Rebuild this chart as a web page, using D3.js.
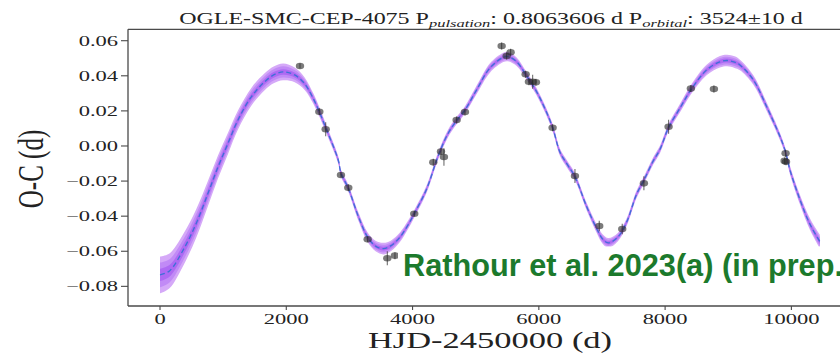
<!DOCTYPE html>
<html>
<head>
<meta charset="utf-8">
<script src="https://cdn.jsdelivr.net/npm/d3@7"></script>
<style>
  html, body { margin: 0; padding: 0; background: #fff; }
  svg { display: block; }
</style>
</head>
<body>
<svg id="chart" width="840" height="353"></svg>
<script>
// Orbital light-travel-time fit of O-C residuals (days) vs HJD-2450000
const modelX = [0, 150, 364, 575, 760, 918, 1077, 1235, 1446, 1657, 1800, 1950, 2133, 2291, 2428, 2523, 2624,
  2823, 2866, 2982, 3140, 3289, 3420, 3540, 3660, 3800, 3920, 4027, 4223, 4407, 4560, 4698, 4830, 5015, 5226,
  5437, 5510, 5648, 5806, 5964, 6100, 6218, 6334, 6450, 6572, 6757, 6915, 7010, 7100, 7250, 7390, 7548, 7664,
  7812, 7918, 8055, 8234, 8408, 8657, 8868, 8984, 9100, 9185, 9395, 9607, 9818, 9908, 9976, 10135, 10293, 10451];
const modelY = [-0.0735, -0.0712, -0.0595, -0.0440, -0.0270, -0.0120, 0.0015, 0.0148, 0.0280, 0.0366, 0.0405,
  0.0422, 0.0405, 0.0355, 0.0270, 0.0195, 0.0105, -0.0080, -0.0155, -0.0240, -0.0400, -0.0520, -0.0572, -0.0585,
  -0.0568, -0.0520, -0.0455, -0.0386, -0.0245, -0.0055, 0.0070, 0.0145, 0.0205, 0.0320, 0.0445, 0.0505, 0.0510,
  0.0480, 0.0400, 0.0310, 0.0210, 0.0105, -0.0035, -0.0105, -0.0175, -0.0345, -0.0470, -0.0530, -0.0552, -0.0520,
  -0.0435, -0.0275, -0.0195, -0.0085, -0.0020, 0.0105, 0.0215, 0.0320, 0.0433, 0.0480, 0.0487, 0.0478, 0.0462,
  0.0378, 0.0225, 0.0055, -0.0035, -0.0135, -0.0305, -0.0445, -0.0545];
// 1-sigma width of the posterior model envelope
const modelSigma = [0.0035, 0.0033, 0.0030, 0.0027, 0.0024, 0.0022, 0.0020, 0.0018, 0.0017, 0.0016, 0.0016,
  0.0016, 0.0014, 0.0012, 0.0010, 0.0009, 0.0008, 0.0007, 0.0007, 0.0007, 0.0008, 0.0009, 0.0010, 0.0011,
  0.0010, 0.0009, 0.0008, 0.0007, 0.0007, 0.0007, 0.0007, 0.0007, 0.0007, 0.0008, 0.0009, 0.0009, 0.0009,
  0.0008, 0.0007, 0.0007, 0.0007, 0.0007, 0.0007, 0.0007, 0.0007, 0.0007, 0.0008, 0.0009, 0.0009, 0.0008,
  0.0007, 0.0007, 0.0007, 0.0007, 0.0007, 0.0007, 0.0008, 0.0009, 0.0010, 0.0011, 0.0011, 0.0011, 0.0010,
  0.0009, 0.0008, 0.0007, 0.0007, 0.0008, 0.0009, 0.0011, 0.0013];

// Observed O-C values
const obsX = [2217, 2523, 2624, 2866, 2982, 3289, 3600, 3721, 4027, 4328, 4450, 4497, 4698, 4830, 5411, 5490,
  5553, 5791, 5843, 5902, 5954, 6218, 6572, 6957, 7321, 7664, 8055, 8408, 8773, 9908, 9893, 9915];
const obsY = [0.0456, 0.0195, 0.0095, -0.0165, -0.0238, -0.0532, -0.0640, -0.0625, -0.0386, -0.0093, -0.0032,
  -0.0063, 0.0148, 0.0194, 0.0570, 0.0513, 0.0534, 0.0409, 0.0366, 0.0366, 0.0363, 0.0104, -0.0171, -0.0456,
  -0.0473, -0.0213, 0.0110, 0.0327, 0.0325, -0.0042, -0.0085, -0.0090];
const obsErr = [0.0015, 0.0020, 0.0040, 0.0015, 0.0020, 0.0015, 0.0040, 0.0020, 0.0015, 0.0020, 0.0020, 0.0050,
  0.0020, 0.0020, 0.0020, 0.0020, 0.0020, 0.0020, 0.0020, 0.0040, 0.0020, 0.0020, 0.0040, 0.0030, 0.0030,
  0.0040, 0.0040, 0.0020, 0.0020, 0.0020, 0.0020, 0.0020];

const xTicks = [0, 2000, 4000, 6000, 8000, 10000];
const yTicks = [-0.08, -0.06, -0.04, -0.02, 0.00, 0.02, 0.04, 0.06];
const sigmaLevels = [3, 2, 1];
const bandColors = ["#d5a9f8", "#c18af6", "#ae6af3"];

const svg = d3.select("#chart");
const plot = { left: 128, right: 852, top: 29.3, bottom: 306 };

const x = d3.scaleLinear().domain([-507, 10960]).range([plot.left, plot.right]);
const y = d3.scaleLinear().domain([-0.0912, 0.0665]).range([plot.bottom, plot.top]);

const serif = "'Liberation Serif', 'Times New Roman', serif";

svg.append("defs").append("clipPath").attr("id", "plotClip")
  .append("rect").attr("x", plot.left).attr("y", plot.top)
  .attr("width", plot.right - plot.left).attr("height", plot.bottom - plot.top);

const g = svg.append("g").attr("clip-path", "url(#plotClip)");

const model = modelX.map((d, i) => ({ x: d, y: modelY[i], s: modelSigma[i] }));

// credible envelopes, widest first
sigmaLevels.forEach((k, i) => {
  const area = d3.area()
    .x(d => x(d.x))
    .y0(d => y(d.y - k * d.s))
    .y1(d => y(d.y + k * d.s))
    .curve(d3.curveCatmullRom.alpha(0.5));
  g.append("path").datum(model).attr("d", area)
    .attr("fill", bandColors[i]).attr("stroke", "none");
});

const line = d3.line().x(d => x(d.x)).y(d => y(d.y)).curve(d3.curveCatmullRom.alpha(0.5));
g.append("path").datum(model).attr("d", line)
  .attr("fill", "none").attr("stroke", "#3f6fd8").attr("stroke-width", 1.35)
  .attr("stroke-dasharray", "5,3");

// observations with error bars
const obs = obsX.map((d, i) => ({ x: d, y: obsY[i], e: obsErr[i] }));
const pts = g.append("g");
pts.selectAll("line.err").data(obs).join("line")
  .attr("class", "err")
  .attr("x1", d => x(d.x)).attr("x2", d => x(d.x))
  .attr("y1", d => y(d.y - d.e)).attr("y2", d => y(d.y + d.e))
  .attr("stroke", "#222").attr("stroke-opacity", 0.65).attr("stroke-width", 1.1);
pts.selectAll("ellipse").data(obs).join("ellipse")
  .attr("cx", d => x(d.x)).attr("cy", d => y(d.y))
  .attr("rx", 4.2).attr("ry", 3.3)
  .attr("fill", "#2a2a2a").attr("fill-opacity", 0.62);

// annotation with white backing (runs past the right edge of the figure)
svg.append("rect").attr("x", 398).attr("y", 246.5).attr("width", 460).attr("height", 50).attr("fill", "#fff");
svg.append("text")
  .attr("x", 403).attr("y", 276)
  .attr("font-family", "'Liberation Sans', Arial, sans-serif")
  .attr("font-weight", "bold").attr("font-size", 30.7)
  .attr("fill", "#1c7a2c")
  .text("Rathour et al. 2023(a) (in prep.)");

// axes frame
const spine = "#4a4a4a";
svg.append("line").attr("x1", plot.left).attr("x2", plot.left).attr("y1", plot.top).attr("y2", plot.bottom)
  .attr("stroke", spine).attr("stroke-width", 1.3);
svg.append("line").attr("x1", plot.left).attr("x2", plot.right).attr("y1", plot.bottom).attr("y2", plot.bottom)
  .attr("stroke", spine).attr("stroke-width", 1.3);
svg.append("line").attr("x1", plot.left).attr("x2", plot.right).attr("y1", plot.top).attr("y2", plot.top)
  .attr("stroke", spine).attr("stroke-width", 1.3);

// horizontally stretched label text, anchored at (ax, ay)
function stretched(parent, ax, ay, sx, anchor) {
  return parent.append("g").attr("transform", `translate(${ax},${ay}) scale(${sx},1)`)
    .append("text").attr("x", 0).attr("y", 0).attr("text-anchor", anchor)
    .attr("font-family", serif).attr("fill", "#222");
}

const fmtY = d => (d < 0 ? "\u2212" : "") + Math.abs(d).toFixed(2);
yTicks.forEach(t => {
  svg.append("line").attr("x1", plot.left - 7).attr("x2", plot.left)
    .attr("y1", y(t)).attr("y2", y(t)).attr("stroke", spine).attr("stroke-width", 1.1);
  stretched(svg, 118, y(t) + 5, 1.5, "end").attr("font-size", 15).text(fmtY(t));
});
xTicks.forEach(t => {
  svg.append("line").attr("x1", x(t)).attr("x2", x(t))
    .attr("y1", plot.bottom).attr("y2", plot.bottom + 4).attr("stroke", spine).attr("stroke-width", 1.1);
  stretched(svg, x(t), 324, 1.5, "middle").attr("font-size", 15).text(String(t));
});

// axis titles
stretched(svg, 490, 348, 1.5, "middle").attr("font-size", 23).text("HJD-2450000 (d)");
svg.append("g").attr("transform", "translate(31,169) scale(1.45,1) rotate(-90)")
  .append("text").attr("text-anchor", "middle").attr("dominant-baseline", "central")
  .attr("font-family", serif).attr("font-size", 25).attr("fill", "#222").text("O-C (d)");

// chart title with italic subscripts
const title = stretched(svg, 491, 24, 1.5, "middle").attr("font-size", 16);
title.append("tspan").text("OGLE-SMC-CEP-4075 P");
title.append("tspan").attr("font-size", 11).attr("font-style", "italic").attr("dy", 3).text("pulsation");
title.append("tspan").attr("dy", -3).text(": 0.8063606 d P");
title.append("tspan").attr("font-size", 11).attr("font-style", "italic").attr("dy", 3).text("orbital");
title.append("tspan").attr("dy", -3).text(": 3524\u00b110 d");
</script>
</body>
</html>
